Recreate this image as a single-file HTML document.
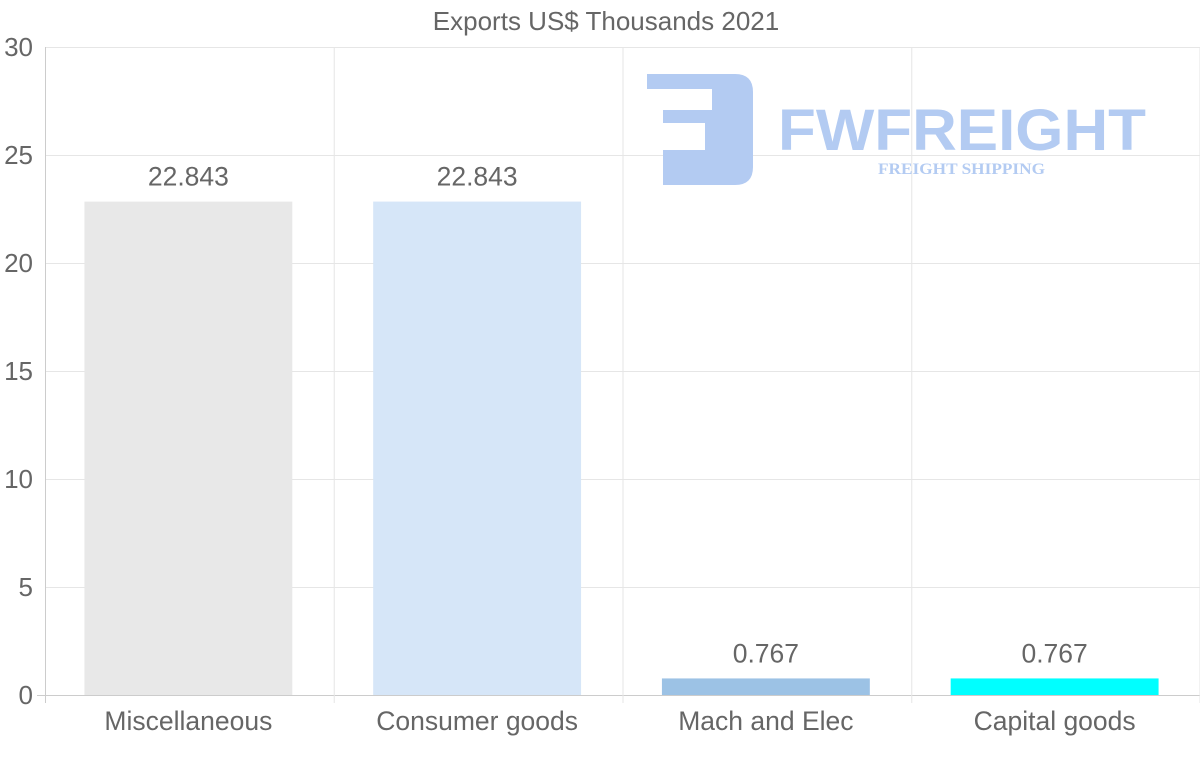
<!DOCTYPE html>
<html><head><meta charset="utf-8"><style>
body{margin:0;background:#fff;}
svg{display:block;font-family:"Liberation Sans",sans-serif;}
</style></head><body>
<svg id="c" width="1200" height="763">
<g fill="#b3cbf2">
<path d="M647 74 H735 Q753 74 753 92 V167 Q753 185 735 185 H663 V150 H705 V123 H663 V110 H712 V89 H647 Z"/>
<text x="778" y="150" font-size="58" font-weight="bold" textLength="368" lengthAdjust="spacingAndGlyphs">FWFREIGHT</text>
<text x="878" y="174" font-size="16" font-weight="bold" font-family="Liberation Serif,serif" textLength="167" lengthAdjust="spacingAndGlyphs">FREIGHT SHIPPING</text>
</g>
</svg>
<script>
const categories=["Miscellaneous","Consumer goods","Mach and Elec","Capital goods"];
const values=[22.843,22.843,0.767,0.767];
const valueLabels=["22.843","22.843","0.767","0.767"];
const yTicks=[0,5,10,15,20,25,30];
const colors=["#e8e8e8","#d6e6f8","#9cc2e5","#00ffff"];
const svg=document.getElementById('c');const NS='http://www.w3.org/2000/svg';
const L=45,R=1200,T=47,B=695,ymax=30;
const y=v=>B-(B-T)*v/ymax;const cw=(R-L)/categories.length;const x=i=>L+cw*i;
function add(t,a){const e=document.createElementNS(NS,t);for(const k in a)e.setAttribute(k,a[k]);svg.appendChild(e);return e;}
const grid=document.createElementNS(NS,'g');svg.insertBefore(grid,svg.firstChild);


yTicks.forEach(v=>{const l=document.createElementNS(NS,'line');
l.setAttribute('x1',v===0?37:L);l.setAttribute('x2',R);l.setAttribute('y1',y(v)+0.5);l.setAttribute('y2',y(v)+0.5);l.setAttribute('stroke',v===0?'#ccc':'#e6e6e6');


grid.appendChild(l);
const t=add('text',{x:33,y:y(v)+9,'text-anchor':'end','font-size':26,fill:'#666'});t.textContent=v;

});
for(let i=0;i<=categories.length;i++){const l=document.createElementNS(NS,'line');
const xx=Math.min(x(i),R-0.5)+0.5;l.setAttribute('x1',xx);l.setAttribute('x2',xx);l.setAttribute('y1',T);l.setAttribute('y2',B+8);l.setAttribute('stroke',i===0?'#ccc':'#e6e6e6');


grid.appendChild(l);}
const bw=cw*0.72;
categories.forEach((c,i)=>{const cx=x(i)+cw/2-1;
const r=add('rect',{x:cx-bw/2,y:y(values[i]),width:bw,height:B-y(values[i]),fill:colors[i]});


const v=add('text',{x:cx,y:y(values[i])-16,'text-anchor':'middle','font-size':26.5,fill:'#666'});v.textContent=valueLabels[i];


const t=add('text',{x:cx,y:730,'text-anchor':'middle','font-size':26.5,fill:'#666'});t.textContent=c;

});
const ti=add('text',{x:606,y:30,'text-anchor':'middle','font-size':26,fill:'#666'});ti.textContent='Exports US$ Thousands 2021';


</script>
</body></html>
